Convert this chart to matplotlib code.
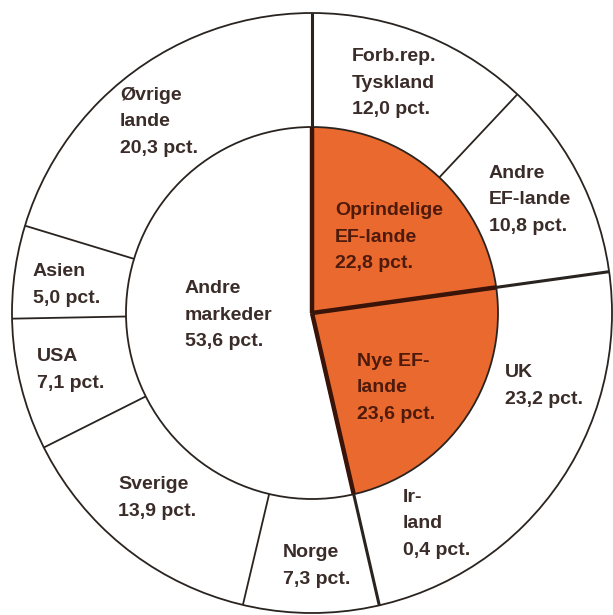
import numpy as np
import matplotlib.pyplot as plt
from matplotlib.patches import Circle

plt.rcParams['font.family'] = ['Liberation Sans', 'DejaVu Sans']

# inner ring: market groups (pct.)
inner_labels = ['Oprindelige\nEF-lande\n22,8 pct.', 'Nye EF-\nlande\n23,6 pct.',
                'Andre\nmarkeder\n53,6 pct.']
inner_values = [22.8, 23.6, 53.6]
inner_ef = [True, True, False]

# outer ring: single countries (pct.)
outer_labels = ['Forb.rep.\nTyskland\n12,0 pct.', 'Andre\nEF-lande\n10,8 pct.',
                'UK\n23,2 pct.', 'Ir-\nland\n0,4 pct.', 'Norge\n7,3 pct.',
                'Sverige\n13,9 pct.', 'USA\n7,1 pct.', 'Asien\n5,0 pct.',
                'Øvrige\nlande\n20,3 pct.']
outer_values = [12.0, 10.8, 23.2, 0.4, 7.3, 13.9, 7.1, 5.0, 20.3]

# label anchors in pixels of the 613x615 picture (left edge, vertical middle)
inner_pos = [(335, 237), (357, 388), (185, 315)]
outer_pos = [(352, 83), (489, 200), (505, 386), (403, 524), (283, 566),
             (118, 498), (37, 370), (33, 285), (120, 122)]

ORANGE = '#E9692F'
LINE = '#2a2420'
DARK = '#3a1409'
TEXT = '#3a2c28'
TEXT_EF = '#4e1a0c'

CX, CY, R = 312, 313, 300  # centre and outer radius in pixels
R_IN = 0.62


def px(x, y):
    return (x - CX) / R, (CY - y) / R


fig = plt.figure(figsize=(6.13, 6.15), dpi=100)
ax = fig.add_axes([0, 0, 1, 1])

ax.pie(outer_values, radius=1, startangle=90, counterclock=False,
       colors=['white'] * len(outer_values),
       wedgeprops=dict(width=1 - R_IN, linewidth=0))
ax.pie(inner_values, radius=R_IN, startangle=90, counterclock=False,
       colors=[ORANGE if e else 'white' for e in inner_ef],
       wedgeprops=dict(linewidth=0))

ax.add_patch(Circle((0, 0), 1, fill=False, ec=LINE, lw=1.3))
ax.add_patch(Circle((0, 0), R_IN, fill=False, ec=LINE, lw=1.3))


def ang(frac):
    return np.deg2rad(90 - 360 * frac / 100)


inner_cum = np.cumsum(inner_values)
outer_cum = np.cumsum(outer_values)

# thin separators in the outer ring
for c in outer_cum:
    if np.min(np.abs(inner_cum - c)) < 1 or np.min(np.abs(inner_cum - c + 100)) < 1:
        continue
    a = ang(c)
    ax.plot([R_IN * np.cos(a), np.cos(a)], [R_IN * np.sin(a), np.sin(a)],
            color=LINE, lw=1.3, solid_capstyle='butt')

# heavy separators between market groups
for c in inner_cum:
    a = ang(c)
    ax.plot([0, np.cos(a)], [0, np.sin(a)], color=LINE, lw=2.2,
            solid_capstyle='butt')
    ax.plot([0, R_IN * np.cos(a)], [0, R_IN * np.sin(a)], color=DARK, lw=3.2,
            solid_capstyle='butt')

for lab, pos, e in zip(inner_labels, inner_pos, inner_ef):
    ax.text(*px(*pos), lab, ha='left', va='center', fontsize=14,
            fontweight='bold', color=TEXT_EF if e else TEXT, linespacing=1.75)
for lab, pos in zip(outer_labels, outer_pos):
    ax.text(*px(*pos), lab, ha='left', va='center', fontsize=14,
            fontweight='bold', color=TEXT, linespacing=1.75)

ax.set_xlim(-CX / R, (613 - CX) / R)
ax.set_ylim(-(615 - CY) / R, CY / R)
ax.set_aspect('auto')
ax.axis('off')

fig.savefig('out.png', dpi=100, facecolor='white')
